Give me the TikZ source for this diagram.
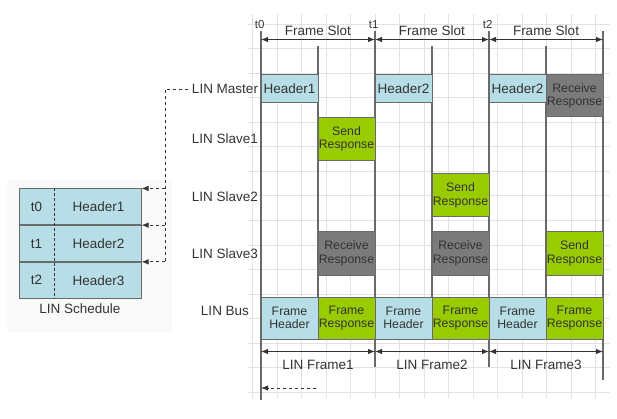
\documentclass[tikz,border=0pt]{standalone}
\usepackage{fontspec}
\setmainfont{Liberation Sans}
\usepackage{xcolor}
\usetikzlibrary{arrows.meta,positioning}
\definecolor{hdrblue}{HTML}{B7DEE6}
\definecolor{rspgreen}{HTML}{99CC00}
\definecolor{rcvgrey}{HTML}{7B7B7B}
\definecolor{linegrey}{HTML}{6A6A6A}
\definecolor{gridgrey}{HTML}{E2E2E2}
\definecolor{txtgrey}{HTML}{333333}
\tikzset{
  lbl/.style={font=\fontsize{13.5}{15}\selectfont,text=txtgrey},
  slot/.style={draw=linegrey,line width=1pt,minimum width=57pt,inner sep=0pt,align=center,
    text=txtgrey,font=\fontsize{12.3}{13.5}\selectfont},
  hdr/.style={slot,fill=hdrblue,minimum height=28pt,font=\fontsize{13.5}{15}\selectfont},
  snd/.style={slot,fill=rspgreen,minimum height=43pt},
  rcv/.style={slot,fill=rcvgrey,minimum height=43pt},
  fhdr/.style={slot,fill=hdrblue,minimum height=42pt},
  frsp/.style={slot,fill=rspgreen,minimum height=42pt},
  tline/.style={draw=linegrey,line width=1.1pt},
  dim/.style={{Latex[length=7pt,width=5.5pt]}-{Latex[length=7pt,width=5.5pt]},line width=1pt,txtgrey},
  back/.style={dashed,-{Latex[length=7pt,width=5.5pt]},line width=0.9pt,txtgrey},
  schrow/.style={draw=linegrey,line width=1pt,fill=hdrblue,minimum width=122pt,minimum height=35.7pt,inner sep=0pt},
}
\begin{document}
\begin{tikzpicture}[x=1pt,y=-1pt]
            \useasboundingbox (0,0) rectangle (617,419);
            % background grid
            \foreach \i in {0,...,14} \draw[gridgrey] (252.3+24.5*\i,14) -- (252.3+24.5*\i,398);
            \foreach \j in {0,...,15} \draw[gridgrey] (248,24.2+24.5*\j) -- (610,24.2+24.5*\j);
            \fill[black!2.5] (7,180) rectangle (172,332);
            % time marks
            \foreach \i/\x in {0/261,1/375,2/489,3/603}{
                \coordinate (top\i) at (\x,31);
                \coordinate (s\i) at (\x,39.5);
                \coordinate (f\i) at (\x,351.5);
            }
            \foreach \i/\x in {0/318,1/432,2/546}{
                \coordinate (mtop\i) at (\x,46);
                \coordinate (mbot\i) at (\x,297);
            }
            \coordinate (bot0) at (261,400);
            \coordinate (bot1) at (375,367);
            \coordinate (bot2) at (489,367);
            \coordinate (bot3) at (603,380);
            \foreach \i in {0,1,2,3} \draw[tline] (top\i) -- (bot\i);
            \foreach \i in {0,1,2} \draw[tline] (mtop\i) -- (mbot\i);
            \foreach \i in {0,1,2} \node[lbl,font=\fontsize{11.5}{13}\selectfont,above left=-1pt and -7pt] at (top\i) {t\i};
            \draw[dim] (s0) -- node[lbl,above=0pt]{Frame Slot} (s1);
            \draw[dim] (s1) -- node[lbl,above=0pt]{Frame Slot} (s2);
            \draw[dim] (s2) -- node[lbl,above=0pt]{Frame Slot} (s3);
            % row labels
            \node[lbl] (lm) at (225,89) {LIN Master};
            \node[lbl] (ls1) at (225,139) {LIN Slave1};
            \node[lbl] (ls2) at (225,197) {LIN Slave2};
            \node[lbl] (ls3) at (225,254) {LIN Slave3};
            \node[lbl] (lb) at (225,311) {LIN Bus};
            % slots
            \node[hdr] (mh1) at (289.5,89) {Header1};
            \node[hdr] (mh2) at (403.5,89) {Header2};
            \node[hdr] (mh3) at (517.5,89) {Header2};
            \node[rcv,minimum height=42pt] (mr3) at (574.5,96) {Receive\\Response};
            \node[snd] (s1r1) at (346.5,139) {Send\\Response};
            \node[snd] (s2r2) at (460.5,195.5) {Send\\Response};
            \node[rcv] (s3r1) at (346.5,253.5) {Receive\\Response};
            \node[rcv] (s3r2) at (460.5,253.5) {Receive\\Response};
            \node[snd] (s3r3) at (574.5,253.5) {Send\\Response};
            \node[fhdr] (bh1) at (289.5,318) {Frame\\Header};
            \node[frsp] (br1) at (346.5,318) {Frame\\Response};
            \node[fhdr] (bh2) at (403.5,318) {Frame\\Header};
            \node[frsp] (br2) at (460.5,318) {Frame\\Response};
            \node[fhdr] (bh3) at (517.5,318) {Frame\\Header};
            \node[frsp] (br3) at (574.5,318) {Frame\\Response};
            \draw[dim] (f0) -- node[lbl,below=5pt]{LIN Frame1} (f1);
            \draw[dim] (f1) -- node[lbl,below=5pt]{LIN Frame2} (f2);
            \draw[dim] (f2) -- node[lbl,below=5pt]{LIN Frame3} (f3);
            \coordinate (ret) at (316,388);
            \draw[back] (ret) -- (ret -| bot0);
            % LIN schedule
            \node[schrow] (r0) at (80,206.8) {};
            \node[schrow,below=0pt of r0] (r1) {};
            \node[schrow,below=0pt of r1] (r2) {};
            \draw[densely dashed,line width=0.9pt,txtgrey] ([xshift=36pt]r0.north west) -- ([xshift=36pt]r2.south west);
            \foreach \i in {0,1,2}{
                \node[lbl] (tt\i) at ([xshift=18pt]r\i.west) {t\i};
                \pgfmathtruncatemacro{\k}{\i+1}
                \node[lbl] (hh\i) at ([xshift=-43pt]r\i.east) {Header\k};
            }
            \node[lbl,below=2pt of r2] (ls) {LIN Schedule};
            \draw[dashed,line width=0.9pt,txtgrey] (lm.west) -- ++(-23,0) coordinate (jn) -- (jn |- r2.north east);
            \foreach \i in {0,1,2} \draw[back] (jn |- r\i.north east) -- (r\i.north east);
        \end{tikzpicture}
\end{document}
